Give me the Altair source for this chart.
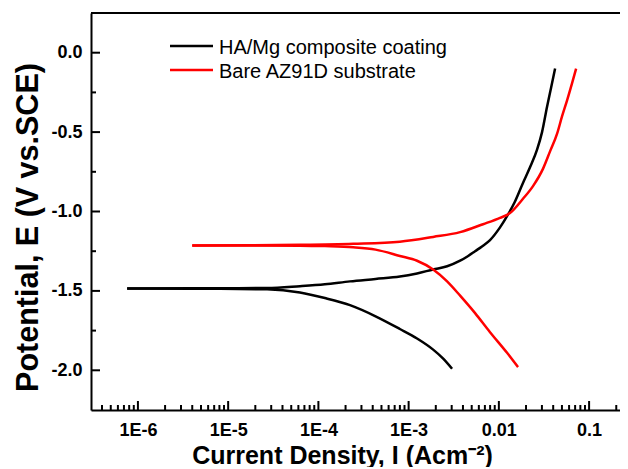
import altair as alt
import pandas as pd

# ---------------- data ----------------
series_names = ["HA/Mg composite coating", "Bare AZ91D substrate"]
series_colors = ["#000000", "#ff0000"]

# HA/Mg composite coating: cathodic branch (Ecorr -> bottom)
ha_cat_I = [7.6e-7, 4.0e-6, 2.7e-5, 6.25e-5, 1.18e-4, 2.24e-4, 4.3e-4, 8.0e-4,
            1.24e-3, 1.87e-3, 2.4e-3, 3.03e-3]
ha_cat_E = [-1.485, -1.486, -1.49, -1.51, -1.545, -1.59, -1.66, -1.74,
            -1.80, -1.87, -1.925, -1.99]
# HA/Mg composite coating: anodic branch (Ecorr -> top)
ha_an_I = [7.6e-7, 4.0e-6, 2.7e-5, 6.25e-5, 1.18e-4, 2.24e-4, 4.3e-4, 8.0e-4,
           1.24e-3, 1.87e-3, 2.67e-3, 3.72e-3, 4.57e-3, 5.45e-3, 6.5e-3, 7.98e-3,
           1.03e-2, 1.26e-2, 1.5e-2, 1.85e-2, 2.22e-2, 2.65e-2, 3.01e-2, 3.42e-2,
           3.79e-2, 4.2e-2]
ha_an_E = [-1.485, -1.484, -1.482, -1.47, -1.458, -1.44, -1.425, -1.41,
           -1.39, -1.365, -1.345, -1.31, -1.28, -1.25, -1.22, -1.18,
           -1.10, -1.02, -0.94, -0.82, -0.72, -0.61, -0.50, -0.34,
           -0.22, -0.10]

# Bare AZ91D substrate: cathodic branch
bare_cat_I = [4.0e-6, 1.75e-5, 6.25e-5, 1.18e-4, 2.43e-4, 4.3e-4, 8.0e-4, 1.24e-3,
              1.87e-3, 2.67e-3, 3.72e-3, 5.45e-3, 7.98e-3, 1.233e-2, 1.63e-2]
bare_cat_E = [-1.214, -1.214, -1.215, -1.218, -1.225, -1.24, -1.28, -1.31,
              -1.365, -1.44, -1.53, -1.64, -1.76, -1.89, -1.98]
# Bare AZ91D substrate: anodic branch
bare_an_I = [4.0e-6, 1.75e-5, 6.25e-5, 2.43e-4, 8.0e-4, 1.87e-3, 3.72e-3, 6.68e-3,
             1.03e-2, 1.33e-2, 1.85e-2, 2.39e-2, 3.09e-2, 3.7e-2, 4.42e-2, 5.02e-2,
             5.7e-2, 6.49e-2, 7.18e-2]
bare_an_E = [-1.214, -1.213, -1.21, -1.203, -1.19, -1.16, -1.13, -1.08,
             -1.04, -1.01, -0.92, -0.84, -0.73, -0.62, -0.51, -0.40,
             -0.30, -0.19, -0.10]

x_major = [1e-6, 1e-5, 1e-4, 1e-3, 1e-2, 1e-1]
x_labels = ["1E-6", "1E-5", "1E-4", "1E-3", "0.01", "0.1"]
y_major = [0.0, -0.5, -1.0, -1.5, -2.0]
y_labels = ["0.0", "-0.5", "-1.0", "-1.5", "-2.0"]
y_minor = [-0.25, -0.75, -1.25, -1.75]

X_DOMAIN = [3.02e-7, 0.22]
Y_DOMAIN = [-2.25, 0.25]
x_minor = [k * 10.0 ** d for d in range(-7, 0) for k in range(2, 10)
           if X_DOMAIN[0] < k * 10.0 ** d < X_DOMAIN[1]]

# ---------------- layout ----------------
W, H = 529, 397
FONT = "Liberation Sans"

rows = []
branches = [
    (series_names[0], "cat", ha_cat_I, ha_cat_E),
    (series_names[0], "an", ha_an_I, ha_an_E),
    (series_names[1], "cat", bare_cat_I, bare_cat_E),
    (series_names[1], "an", bare_an_I, bare_an_E),
]
for name, br, Is, Es in branches:
    for i, (a, b) in enumerate(zip(Is, Es)):
        rows.append({"I": a, "E": b, "series": name, "branch": name + br, "order": i})
df = pd.DataFrame(rows)


def chain_expr(values, labels):
    expr = "''"
    for v, lab in reversed(list(zip(values, labels))):
        expr = f"abs(datum.value - ({v})) < 1e-9 ? '{lab}' : " + expr
    return expr


def log_chain(values, labels):
    expr = "''"
    for v, lab in reversed(list(zip(values, labels))):
        expr = f"abs(log(datum.value) - log({v})) < 0.01 ? '{lab}' : " + expr
    return expr


xscale = alt.Scale(type="log", domain=X_DOMAIN, nice=False)
yscale = alt.Scale(domain=Y_DOMAIN, nice=False, zero=False)

x_axis = alt.Axis(
    values=x_major, labelExpr=log_chain(x_major, x_labels), ticks=False, tickSize=0,
    grid=False, domainColor="black", domainWidth=2, labelPadding=11,
    labelFont=FONT, labelFontSize=18, labelFontWeight="bold", labelColor="black",
    labelFlush=False, labelOverlap=False,
    title="Current Density, I (Acm\u207b\u00b2)", titleFont=FONT, titleFontSize=25,
    titleFontWeight="bold", titleColor="black", titleX=251, titleY=53,
    titleBaseline="alphabetic", titleAlign="center", titleAnchor="middle",
)
y_axis = alt.Axis(
    values=y_major, labelExpr=chain_expr(y_major, y_labels), ticks=False, tickSize=0,
    grid=False, domainColor="black", domainWidth=2, labelPadding=9,
    labelFont=FONT, labelFontSize=18, labelFontWeight="bold", labelColor="black",
    labelOverlap=False,
    title="Potential, E (V vs.SCE)", titleFont=FONT, titleFontSize=30.5,
    titleFontWeight="bold", titleColor="black", titleX=-54, titleY=214,
    titleBaseline="alphabetic", titleAlign="center", titleAngle=-90,
)

lines = alt.Chart(df).mark_line(strokeWidth=2.5, interpolate="monotone").encode(
    x=alt.X("I:Q", scale=xscale, axis=x_axis),
    y=alt.Y("E:Q", scale=yscale, axis=y_axis),
    color=alt.Color("series:N", scale=alt.Scale(domain=series_names, range=series_colors), legend=None),
    detail="branch:N",
    order="order:Q",
)

ymaj = alt.Chart(pd.DataFrame({"v": y_major})).mark_rule(color="black", strokeWidth=2).encode(
    y=alt.Y("v:Q", scale=yscale, axis=y_axis), x=alt.value(0), x2=alt.value(9))
ymin = alt.Chart(pd.DataFrame({"v": y_minor})).mark_rule(color="black", strokeWidth=2).encode(
    y=alt.Y("v:Q", scale=yscale, axis=y_axis), x=alt.value(0), x2=alt.value(5))
xmaj = alt.Chart(pd.DataFrame({"v": x_major})).mark_rule(color="black", strokeWidth=2).encode(
    x=alt.X("v:Q", scale=xscale, axis=x_axis), y=alt.value(H), y2=alt.value(H - 9))
xmin = alt.Chart(pd.DataFrame({"v": x_minor})).mark_rule(color="black", strokeWidth=2).encode(
    x=alt.X("v:Q", scale=xscale, axis=x_axis), y=alt.value(H), y2=alt.value(H - 5))
topline = alt.Chart(pd.DataFrame({"a": [0]})).mark_rule(color="black", strokeWidth=2).encode(
    y=alt.value(0), x=alt.value(0), x2=alt.value(W))

legend_layers = []
for i, (name, col) in enumerate(zip(series_names, series_colors)):
    ly = 33 + 24 * i
    ldf = pd.DataFrame({"name": [name]})
    legend_layers.append(alt.Chart(ldf).mark_rule(color=col, strokeWidth=2.5).encode(
        x=alt.value(79), x2=alt.value(122), y=alt.value(ly)))
    legend_layers.append(alt.Chart(ldf).mark_text(
        align="left", baseline="middle", font=FONT, fontSize=20, color="black").encode(
        x=alt.value(128), y=alt.value(ly + 2), text="name:N"))

chart = alt.layer(lines, ymaj, ymin, xmaj, xmin, topline, *legend_layers).properties(
    width=W, height=H,
    autosize=alt.AutoSizeParams(type="none"),
    padding={"left": 83, "top": 5, "right": 0, "bottom": 57},
).configure_view(strokeWidth=0).configure(background="white")

chart.save("out.html", embed_options={"renderer": "svg", "actions": False})
